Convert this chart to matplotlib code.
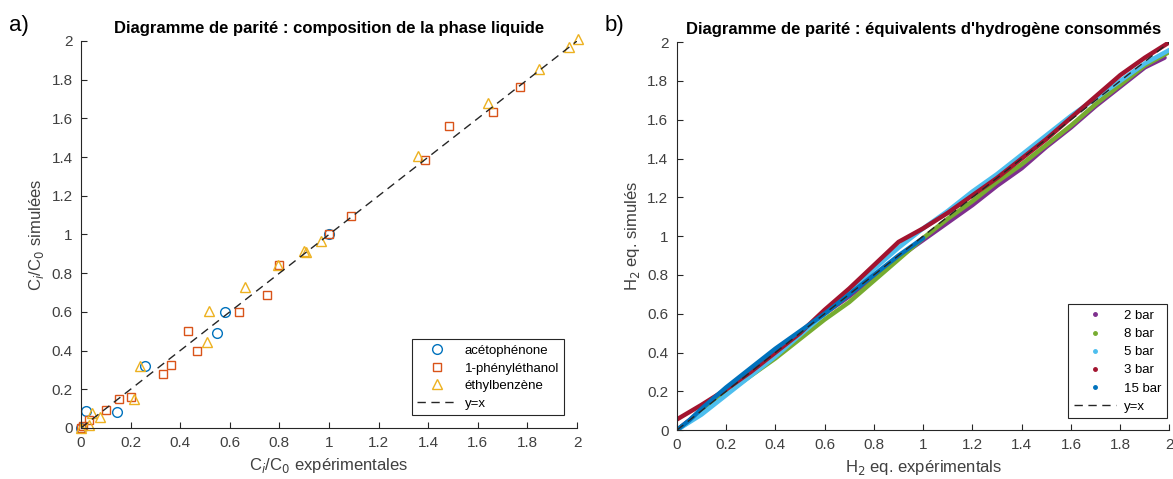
import matplotlib.pyplot as plt
import numpy as np
from matplotlib.lines import Line2D
from matplotlib.ticker import FuncFormatter, MultipleLocator

plt.rcParams['font.family'] = ['Liberation Sans', 'DejaVu Sans']

# --- a) composition de la phase liquide ---
aceto_x = [0.0, 0.02, 0.145, 0.26, 0.55, 0.58, 1.0]
aceto_y = [0.0, 0.09, 0.085, 0.32, 0.49, 0.60, 1.0]

phenyl_x = [0.0, 0.01, 0.034, 0.10, 0.155, 0.20, 0.33, 0.364, 0.431, 0.469, 0.637,
            0.75, 0.80, 1.0, 1.09, 1.385, 1.485, 1.66, 1.77]
phenyl_y = [0.0, 0.01, 0.043, 0.095, 0.15, 0.16, 0.28, 0.327, 0.503, 0.396, 0.597,
            0.685, 0.843, 1.0, 1.098, 1.386, 1.563, 1.633, 1.764]

ethyl_x = [0.0, 0.034, 0.043, 0.078, 0.213, 0.24, 0.509, 0.518, 0.66, 0.795, 0.90,
           0.906, 0.966, 1.357, 1.639, 1.845, 1.966, 2.003]
ethyl_y = [0.0, 0.017, 0.077, 0.055, 0.15, 0.32, 0.442, 0.606, 0.731, 0.84, 0.912,
           0.907, 0.967, 1.406, 1.678, 1.854, 1.971, 2.01]

# --- b) equivalents d'hydrogene ---
p2_x = [0.0, 0.1, 0.2, 0.3, 0.4, 0.5, 0.6, 0.7, 0.8, 0.9, 1.0, 1.1, 1.2, 1.3, 1.4, 1.5,
        1.6, 1.7, 1.8, 1.9, 1.98]
p2_y = [0.0, 0.10, 0.20, 0.30, 0.40, 0.50, 0.60, 0.69, 0.79, 0.89, 0.98, 1.07, 1.16, 1.26,
        1.35, 1.46, 1.56, 1.67, 1.77, 1.87, 1.92]

p8_x = [0.0, 0.1, 0.2, 0.3, 0.4, 0.5, 0.6, 0.7, 0.8, 0.9, 1.0, 1.1, 1.2, 1.3, 1.4, 1.5,
        1.6, 1.7, 1.8, 1.9, 2.0]
p8_y = [0.0, 0.09, 0.19, 0.28, 0.37, 0.47, 0.57, 0.66, 0.77, 0.88, 0.99, 1.09, 1.18, 1.28,
        1.37, 1.47, 1.57, 1.68, 1.78, 1.88, 1.95]

p5_x = [0.0, 0.1, 0.2, 0.3, 0.4, 0.5, 0.6, 0.7, 0.8, 0.9, 1.0, 1.1, 1.2, 1.3, 1.4, 1.5,
        1.6, 1.7, 1.8, 1.9, 2.0]
p5_y = [0.0, 0.08, 0.18, 0.28, 0.38, 0.49, 0.60, 0.71, 0.83, 0.94, 1.04, 1.13, 1.23, 1.32,
        1.42, 1.52, 1.62, 1.71, 1.80, 1.89, 1.96]

p3_x = [0.0, 0.1, 0.2, 0.3, 0.4, 0.5, 0.6, 0.7, 0.8, 0.9, 1.0, 1.1, 1.2, 1.3, 1.4, 1.5,
        1.6, 1.7, 1.8, 1.9, 2.0]
p3_y = [0.055, 0.13, 0.21, 0.30, 0.40, 0.50, 0.62, 0.73, 0.85, 0.97, 1.04, 1.12, 1.21, 1.30,
        1.40, 1.50, 1.61, 1.72, 1.83, 1.92, 2.0]

p15_x = [0.0, 0.05, 0.1, 0.2, 0.3, 0.4, 0.5, 0.6, 0.7, 0.8, 0.9, 1.0]
p15_y = [0.0, 0.05, 0.11, 0.22, 0.32, 0.42, 0.51, 0.60, 0.70, 0.80, 0.90, 0.99]

BLUE = '#0072BD'
ORANGE = '#D95319'
YELLOW = '#EDB120'
PURPLE = '#7E2F8E'
GREEN = '#77AC30'
LBLUE = '#4DBEEE'
RED = '#A2142F'
AXC = '#262626'
TXC = '#404040'


def style_axes(ax):
    ax.set_xlim(0, 2)
    ax.set_ylim(0, 2)
    ax.xaxis.set_major_locator(MultipleLocator(0.2))
    ax.yaxis.set_major_locator(MultipleLocator(0.2))
    fmt = FuncFormatter(lambda v, p: '%g' % round(v, 2))
    ax.xaxis.set_major_formatter(fmt)
    ax.yaxis.set_major_formatter(fmt)
    for s in ['top', 'right']:
        ax.spines[s].set_visible(False)
    for s in ['left', 'bottom']:
        ax.spines[s].set_color(AXC)
        ax.spines[s].set_linewidth(0.8)
    ax.tick_params(direction='in', length=4, width=0.8, colors=AXC, labelcolor=TXC,
                   labelsize=11, pad=6)


fig = plt.figure(figsize=(11.73, 4.79), dpi=100)
ax1 = fig.add_axes([0.069, 0.1065, 0.423, 0.808])
ax2 = fig.add_axes([0.577, 0.102, 0.420, 0.81])

# panel a
ms = 7
ax1.plot(aceto_x, aceto_y, 'o', mfc='none', mec=BLUE, ms=ms, mew=1, label='acétophénone', clip_on=False)
ax1.plot(phenyl_x, phenyl_y, 's', mfc='none', mec=ORANGE, ms=6, mew=1, label='1-phényléthanol', clip_on=False)
ax1.plot(ethyl_x, ethyl_y, '^', mfc='none', mec=YELLOW, ms=ms, mew=1, label='éthylbenzène', clip_on=False)
ax1.plot([0, 2], [0, 2], '--', color=AXC, lw=1, dashes=(6, 4), label='y=x')
style_axes(ax1)
ax1.set_xlabel('C$_i$/C$_0$ expérimentales', fontsize=12, color=TXC)
ax1.set_ylabel('C$_i$/C$_0$ simulées', fontsize=12, color=TXC)
ax1.set_title("Diagramme de parité : composition de la phase liquide", fontsize=12,
              fontweight='bold', pad=6)
leg1 = ax1.legend(loc='lower right', bbox_to_anchor=(0.974, 0.034), borderaxespad=0,
                  fontsize=9.5, fancybox=False, framealpha=1, edgecolor=AXC,
                  handlelength=3, handletextpad=0.6, labelspacing=0.4, borderpad=0.4)
leg1.get_frame().set_linewidth(0.8)

# panel b
series = [(p2_x, p2_y, PURPLE, '2 bar'), (p8_x, p8_y, GREEN, '8 bar'),
          (p5_x, p5_y, LBLUE, '5 bar'), (p3_x, p3_y, RED, '3 bar'),
          (p15_x, p15_y, BLUE, '15 bar')]
handles = []
for xs, ys, c, lab in series:
    ax2.plot(xs, ys, '-', color=c, lw=3.2, solid_capstyle='round')
    handles.append(Line2D([], [], marker='.', linestyle='none', color=c, ms=5, label=lab))
ax2.plot([0, 2], [0, 2], '--', color=AXC, lw=1, dashes=(6, 4))
handles.append(Line2D([], [], linestyle='--', color=AXC, lw=1, dashes=(6, 4), label='y=x'))
style_axes(ax2)
ax2.set_xlabel('H$_2$ eq. expérimentals', fontsize=12, color=TXC)
ax2.set_ylabel('H$_2$ eq. simulés', fontsize=12, color=TXC)
ax2.set_title("Diagramme de parité : équivalents d'hydrogène consommés", fontsize=12,
              fontweight='bold', pad=6)
leg2 = ax2.legend(handles=handles, loc='lower right', bbox_to_anchor=(0.994, 0.031),
                  borderaxespad=0, fontsize=9.5, fancybox=False, framealpha=1, edgecolor=AXC,
                  handlelength=3.2, handletextpad=0.6, labelspacing=0.45, borderpad=0.4)
leg2.get_frame().set_linewidth(0.8)

fig.text(0.008, 0.935, 'a)', fontsize=16)
fig.text(0.515, 0.935, 'b)', fontsize=16)

fig.savefig('out.png', dpi=100)
